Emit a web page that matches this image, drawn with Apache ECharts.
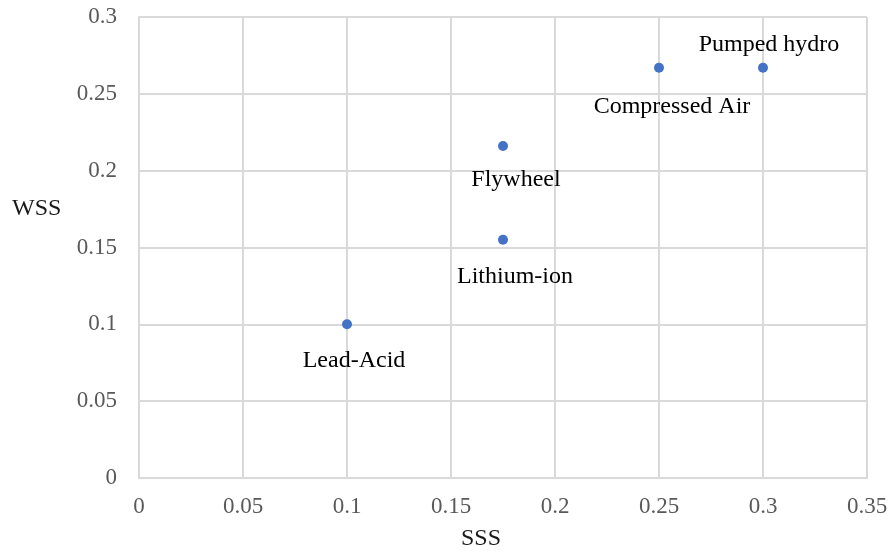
<!DOCTYPE html>
<html>
<head>
<meta charset="utf-8">
<script src="https://cdn.jsdelivr.net/npm/echarts@6/dist/echarts.min.js"></script>
<style>
  html, body { margin: 0; padding: 0; background: #fff; }
  #chart { width: 891px; height: 556px; }
</style>
</head>
<body>
<div id="chart"></div>
<script>
// Storage technologies scored on SSS (x) and WSS (y)
const technologies = ['Lead-Acid', 'Lithium-ion', 'Flywheel', 'Compressed Air', 'Pumped hydro'];
const sssValues = [0.1, 0.175, 0.175, 0.25, 0.3];
const wssValues = [0.1, 0.155, 0.216, 0.267, 0.267];
const xTicks = [0, 0.05, 0.1, 0.15, 0.2, 0.25, 0.3, 0.35];
const yTicks = [0, 0.05, 0.1, 0.15, 0.2, 0.25, 0.3];

// label placement for each point (pixel offsets from the marker)
const labelOffsets = [[7, 36], [12, 37], [13, 34], [13, 39], [6, -23]];

const serif = '"Liberation Serif", "Times New Roman", serif';
const gridColor = '#d9d9d9';
const tickColor = '#595959';

const points = technologies.map((name, i) => ({
  name: name,
  value: [sssValues[i], wssValues[i]],
  label: { offset: labelOffsets[i] }
}));

const chart = echarts.init(document.getElementById('chart'), null, { renderer: 'canvas' });
chart.setOption({
  animation: false,
  backgroundColor: '#ffffff',
  grid: { left: 139, right: 24, top: 17, bottom: 78, containLabel: false },
  xAxis: {
    type: 'value',
    min: xTicks[0],
    max: xTicks[xTicks.length - 1],
    interval: 0.05,
    axisLine: { show: true, lineStyle: { color: gridColor, width: 2 } },
    axisTick: { show: false },
    splitLine: { show: true, lineStyle: { color: gridColor, width: 2 } },
    axisLabel: {
      color: tickColor, fontFamily: serif, fontSize: 23, margin: 17,
      formatter: v => String(+v.toFixed(2))
    }
  },
  yAxis: {
    type: 'value',
    min: yTicks[0],
    max: yTicks[yTicks.length - 1],
    interval: 0.05,
    axisLine: { show: true, lineStyle: { color: gridColor, width: 2 } },
    axisTick: { show: false },
    splitLine: { show: true, lineStyle: { color: gridColor, width: 2 } },
    axisLabel: {
      color: tickColor, fontFamily: serif, fontSize: 23, margin: 22,
      formatter: v => String(+v.toFixed(2))
    }
  },
  graphic: [
    { type: 'text', left: 12, top: 197, style: { text: 'WSS', fontFamily: serif, fontSize: 24, fill: '#1a1a1a' } },
    { type: 'text', left: 461, top: 527, style: { text: 'SSS', fontFamily: serif, fontSize: 24, fill: '#1a1a1a' } }
  ],
  series: [{
    type: 'scatter',
    symbol: 'circle',
    symbolSize: 10,
    itemStyle: { color: '#4472C4', opacity: 1 },
    label: {
      show: true,
      position: 'inside',
      formatter: p => p.name,
      color: '#000000',
      fontFamily: serif,
      fontSize: 24
    },
    data: points
  }]
});
</script>
</body>
</html>
